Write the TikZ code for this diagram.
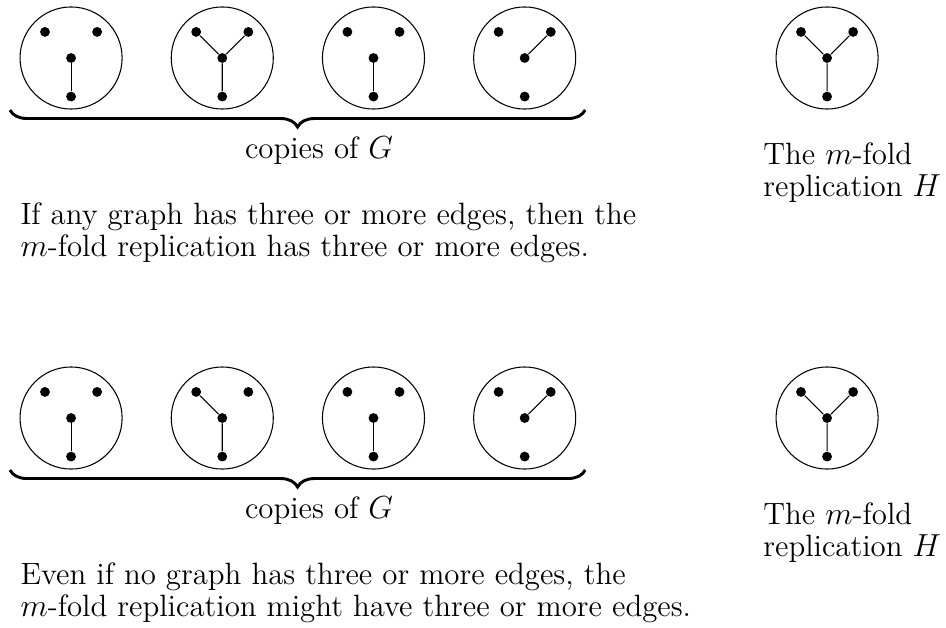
\documentclass[tikz,border=0pt]{standalone}
\usepackage{amsmath}
\usetikzlibrary{decorations.pathreplacing}

\begin{document}
\begin{tikzpicture}[
  font=\fontsize{11.6}{12}\selectfont,
  ring/.style={draw,circle,minimum size=1.35cm,inner sep=0pt},
  vtx/.style={fill,circle,minimum size=0.13cm,inner sep=0pt},
  curly/.style={decorate,decoration={brace,mirror,amplitude=0.225cm},line width=1.1pt},
  caption/.style={align=left,inner sep=0pt,anchor=west}]
  \useasboundingbox (0,0) rectangle (12.513,-8.294);
  % four copies of G, then H, in each row
  \foreach \r/\y in {t/-0.767,b/-5.529}{
    \foreach \i/\x in {1/0.94,2/2.94,3/4.94,4/6.94,5/10.94}{
      \node[ring] (\r\i) at (\x,\y) {};
      \node[vtx] (\r\i-l) at (\x-0.345,\y+0.345) {};
      \node[vtx] (\r\i-r) at (\x+0.345,\y+0.345) {};
      \node[vtx] (\r\i-m) at (\x,\y) {};
      \node[vtx] (\r\i-d) at (\x,\y-0.51) {};
    }
    \coordinate (\r-bl) at (0.132,\y-0.688);
    \coordinate (\r-br) at (7.74,\y-0.688);
    \draw[curly] (\r-bl) -- (\r-br);
    \node[anchor=base,inner sep=0pt] (\r-cap) at (4.22,\y-1.323) {copies of $G$};
    \node[caption] (\r-H) at (10.09,\y-1.522) {The $m$-fold\\replication $H$};
  }
  % edges, top row
  \draw (t1-m) -- (t1-d);
  \draw (t2-l) -- (t2-m) -- (t2-r) (t2-m) -- (t2-d);
  \draw (t3-m) -- (t3-d);
  \draw (t4-r) -- (t4-m);
  \draw (t5-l) -- (t5-m) -- (t5-r) (t5-m) -- (t5-d);
  % edges, bottom row
  \draw (b1-m) -- (b1-d);
  \draw (b2-l) -- (b2-m) -- (b2-d);
  \draw (b3-m) -- (b3-d);
  \draw (b4-r) -- (b4-m);
  \draw (b5-l) -- (b5-m) -- (b5-r) (b5-m) -- (b5-d);
  \node[caption] (t-note) at (0.265,-3.082) {If any graph has three or more edges, then the\\$m$-fold replication has three or more edges.};
  \node[caption] (b-note) at (0.265,-7.844) {Even if no graph has three or more edges, the\\$m$-fold replication might have three or more edges.};
\end{tikzpicture}
\end{document}
